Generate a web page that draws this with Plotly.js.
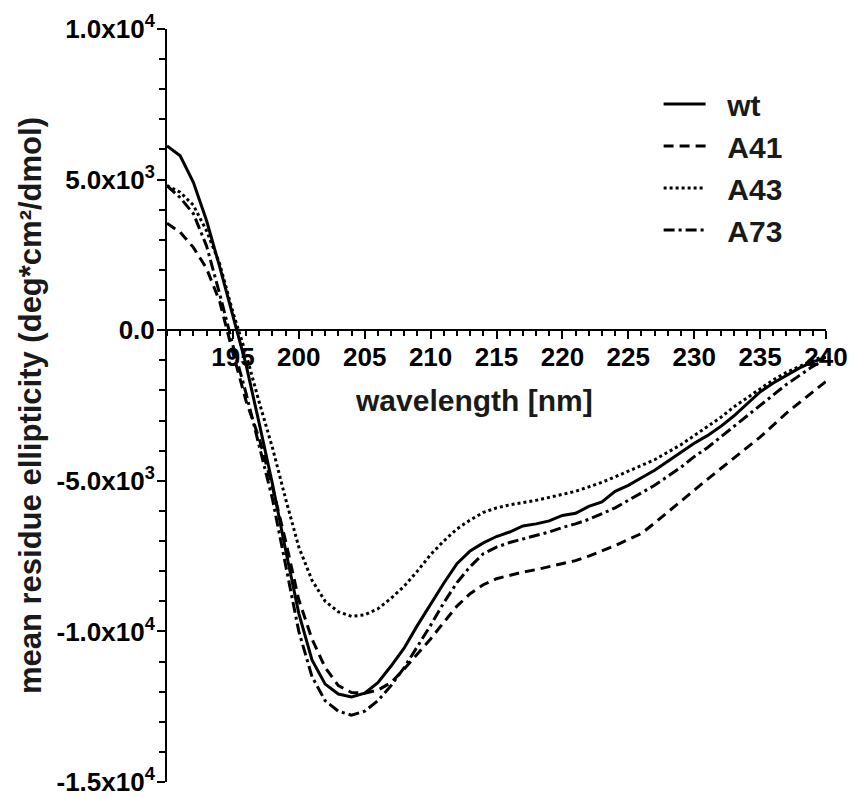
<!DOCTYPE html>
<html>
<head>
<meta charset="utf-8">
<script src="https://cdn.plot.ly/plotly-3.0.1.min.js"></script>
<style>html,body{margin:0;padding:0;background:#fff;}</style>
</head>
<body>
<div id="chart" style="width:854px;height:798px;"></div>
<script>
const wavelength = [190,191,192,193,194,195,196,197,198,199,200,201,202,203,204,205,206,207,208,209,210,211,212,213,214,215,216,217,218,219,220,221,222,223,224,225,226,227,228,229,230,231,232,233,234,235,236,237,238,239,240];

const wt = [6120,5790,4910,3640,2100,450,-1150,-3100,-5100,-7300,-9400,-10950,-11750,-12080,-12180,-12050,-11700,-11150,-10550,-9800,-9100,-8400,-7750,-7330,-7060,-6850,-6700,-6500,-6430,-6330,-6150,-6080,-5850,-5700,-5350,-5150,-4900,-4650,-4350,-4050,-3750,-3500,-3200,-2850,-2450,-2050,-1750,-1500,-1250,-1050,-900];

const a41 = [3550,3250,2750,2050,950,-750,-2350,-3600,-5200,-7000,-8950,-10250,-11200,-11800,-12030,-12050,-11950,-11700,-11250,-10750,-10250,-9700,-9160,-8750,-8450,-8250,-8130,-8030,-7950,-7850,-7760,-7650,-7500,-7330,-7150,-6950,-6750,-6400,-6030,-5660,-5300,-4950,-4600,-4250,-3900,-3550,-3150,-2750,-2400,-2050,-1700];

const a43 = [4800,4580,4150,3300,2200,600,-800,-2400,-3900,-5600,-7200,-8300,-9000,-9350,-9500,-9450,-9250,-8900,-8500,-8000,-7450,-7000,-6600,-6300,-6050,-5900,-5800,-5730,-5650,-5550,-5450,-5350,-5200,-5050,-4870,-4680,-4500,-4300,-4050,-3800,-3500,-3200,-2900,-2550,-2250,-1950,-1650,-1400,-1200,-1000,-850];

const a73 = [4800,4400,3870,2800,1200,-500,-2100,-3800,-5600,-7800,-10000,-11500,-12300,-12650,-12780,-12650,-12300,-11800,-11200,-10500,-9800,-9050,-8380,-7850,-7420,-7200,-7050,-6930,-6820,-6700,-6550,-6430,-6280,-6100,-5900,-5650,-5400,-5150,-4850,-4550,-4200,-3900,-3550,-3200,-2850,-2500,-2150,-1800,-1500,-1200,-950];

const seriesNames = ['wt','A41','A43','A73'];
const xTickVals = [195,200,205,210,215,220,225,230,235,240];
const yTickVals = [-15000,-10000,-5000,0,5000,10000];
const yTickText = ['-1.5x10<sup>4</sup>','-1.0x10<sup>4</sup>','-5.0x10<sup>3</sup>','0.0','5.0x10<sup>3</sup>','1.0x10<sup>4</sup>'];

const FONT = 'Liberation Sans, Arial, Helvetica, sans-serif';
const pad = '\u00a0\u00a0';

const dashes = ['solid', '10px,6px', 'dot', '11px,4px,3px,4px'];
const ys = [wt, a41, a43, a73];

const traces = ys.map((y, i) => ({
  type: 'scatter',
  mode: 'lines',
  x: wavelength,
  y: y,
  name: pad + seriesNames[i],
  legendgroup: 'g' + i,
  line: {color: '#000', width: 3, dash: dashes[i]},
  hoverinfo: 'skip'
}));

const layout = {
  width: 854,
  height: 798,
  margin: {l: 167, r: 28, t: 29, b: 16},
  paper_bgcolor: '#fff',
  plot_bgcolor: '#fff',
  showlegend: true,
  legend: {
    x: 0.746, y: 0.935, xanchor: 'left', yanchor: 'top',
    font: {family: FONT, size: 30, weight: 'bold', color: '#1a1a1a'},
    itemwidth: 42, tracegroupgap: 0, bgcolor: 'rgba(0,0,0,0)'
  },
  xaxis: {
    range: [190, 240],
    anchor: 'free', position: 0.6,
    tickmode: 'array', tickvals: xTickVals,
    showgrid: false, zeroline: false,
    showline: true, linecolor: '#000', linewidth: 2,
    ticks: 'outside', ticklen: 8, tickwidth: 2, tickcolor: '#000',
    ticklabelstandoff: -4,
    minor: {dtick: 1, ticks: 'outside', ticklen: 5, tickwidth: 2, tickcolor: '#000', showgrid: false},
    tickfont: {family: FONT, size: 26, weight: 'bold', color: '#000'}
  },
  yaxis: {
    range: [-15000, 10000],
    tickmode: 'array', tickvals: yTickVals, ticktext: yTickText,
    showgrid: false, zeroline: false,
    showline: true, linecolor: '#000', linewidth: 2,
    ticks: 'outside', ticklen: 8, tickwidth: 2, tickcolor: '#000',
    ticklabelstandoff: -3,
    minor: {dtick: 1000, ticks: 'outside', ticklen: 6, tickwidth: 2, tickcolor: '#000', showgrid: false},
    tickfont: {family: FONT, size: 26, weight: 'bold', color: '#000'}
  },
  annotations: [
    {text: 'wavelength [nm]', xref: 'paper', yref: 'paper', x: 0.466, y: 0.507,
     xanchor: 'center', yanchor: 'middle', showarrow: false,
     font: {family: FONT, size: 30, weight: 'bold', color: '#1a1a1a'}},
    {text: 'mean residue ellipticity (deg*cm\u00b2/dmol)', xref: 'paper', yref: 'paper', x: -0.207, y: 0.5,
     xanchor: 'center', yanchor: 'middle', textangle: -90, showarrow: false,
     font: {family: FONT, size: 31, weight: 'bold', color: '#1a1a1a'}}
  ]
};

Plotly.newPlot('chart', traces, layout, {displayModeBar: false, staticPlot: true});
</script>
</body>
</html>
